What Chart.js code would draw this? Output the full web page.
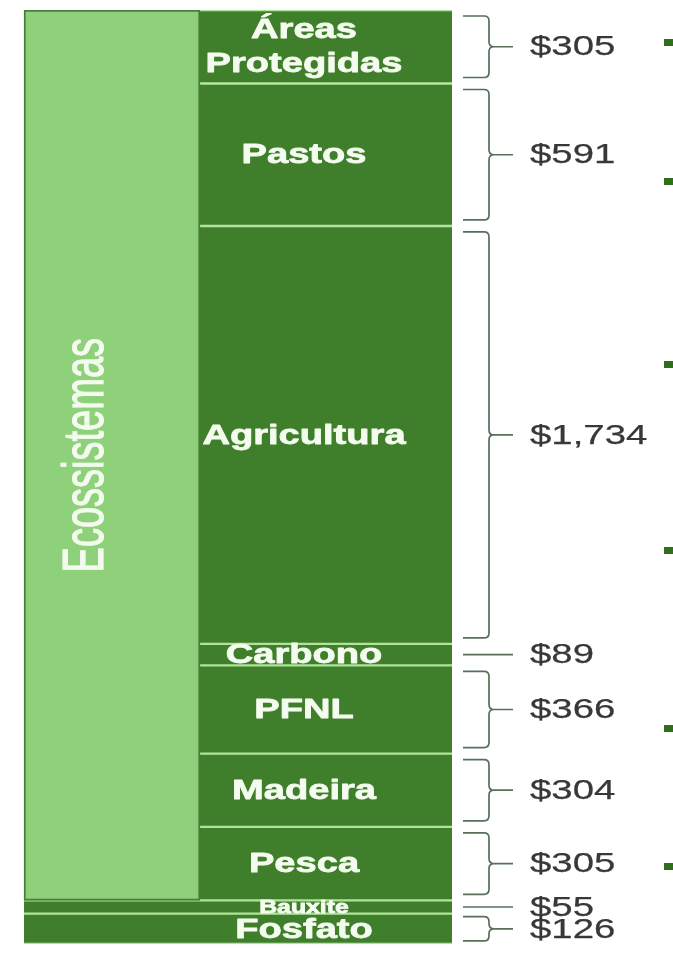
<!DOCTYPE html>
<html>
<head>
<meta charset="utf-8">
<script src="https://cdn.jsdelivr.net/npm/chart.js@4.4.0/dist/chart.umd.min.js"></script>
<style>
  html, body { margin: 0; padding: 0; background: #fff; }
  #wrap { width: 673px; height: 960px; position: relative; }
</style>
</head>
<body>
<div id="wrap"><canvas id="chart"></canvas></div>
<script>
// Valor dos serviços (US$), lidos de cima para baixo
const columns = ['Ecossistemas', 'Serviços'];
const groupLabel = 'Ecossistemas';
const segmentLabels = ['Áreas\nProtegidas', 'Pastos', 'Agricultura', 'Carbono', 'PFNL', 'Madeira', 'Pesca'];
const segmentValues = [305, 591, 1734, 89, 366, 304, 305];
const mineralLabels = ['Bauxite', 'Fosfato'];
const mineralValues = [55, 126];

const DARK = '#3f7e2b';
const LIGHT = '#8fd17a';
const LINE = '#b0e49b';
const OUTLINE = '#4b7d3a';
const FONT = "'Liberation Sans', Arial, sans-serif";

const ecoTotal = segmentValues.reduce((a, b) => a + b, 0);
const grandTotal = ecoTotal + mineralValues.reduce((a, b) => a + b, 0);

const thin = { top: 1.5, bottom: 1.5, left: 0, right: 0 };
const datasets = [];
datasets.push({
  label: groupLabel, kind: 'group', data: [ecoTotal, null],
  backgroundColor: LIGHT, borderColor: OUTLINE, borderWidth: 2,
  borderSkipped: false, barThickness: 176
});
segmentLabels.forEach((lab, i) => {
  datasets.push({
    label: lab, kind: 'segment', data: [null, segmentValues[i]],
    backgroundColor: DARK, borderColor: LINE, borderWidth: thin,
    borderSkipped: false, barThickness: 252, clip: false
  });
});
mineralLabels.forEach((lab, i) => {
  datasets.push({
    label: lab, kind: 'mineralLeft', data: [mineralValues[i], null],
    backgroundColor: DARK, borderColor: LINE, borderWidth: thin,
    borderSkipped: false, barThickness: 176
  });
  datasets.push({
    label: lab, kind: 'mineral', data: [null, mineralValues[i]],
    backgroundColor: DARK, borderColor: LINE, borderWidth: thin,
    borderSkipped: false, barThickness: 252, clip: false
  });
});

// text drawn wider than the font, with a light stroke to make it heavier
function stretched(ctx, text, x, y, sx, weight) {
  ctx.save();
  ctx.translate(x, y);
  ctx.scale(sx, 1);
  ctx.fillText(text, 0, 0);
  if (weight) {
    ctx.strokeStyle = ctx.fillStyle;
    ctx.lineWidth = weight;
    ctx.lineJoin = 'round';
    ctx.strokeText(text, 0, 0);
  }
  ctx.restore();
}

function brace(ctx, x0, x1, xt, top, bottom) {
  const mid = (top + bottom) / 2;
  const r = Math.min(5, (bottom - top) / 4);
  ctx.beginPath();
  ctx.moveTo(x0, top);
  ctx.lineTo(x1 - r, top);
  ctx.quadraticCurveTo(x1, top, x1, top + r);
  ctx.lineTo(x1, mid - r);
  ctx.quadraticCurveTo(x1, mid, x1 + r, mid);
  ctx.lineTo(xt, mid);
  ctx.moveTo(x1 + r, mid);
  ctx.quadraticCurveTo(x1, mid, x1, mid + r);
  ctx.lineTo(x1, bottom - r);
  ctx.quadraticCurveTo(x1, bottom, x1 - r, bottom);
  ctx.lineTo(x0, bottom);
  ctx.stroke();
}

const overlay = {
  id: 'overlay',
  afterDatasetsDraw(chart) {
    const ctx = chart.ctx;
    chart.data.datasets.forEach((ds, di) => {
      const meta = chart.getDatasetMeta(di);
      if (ds.kind === 'group') {
        const el = meta.data[0];
        const mid = (el.y + el.base) / 2;
        ctx.save();
        ctx.translate(el.x - 30, mid);
        ctx.rotate(-Math.PI / 2);
        ctx.scale(1, 1.5);
        ctx.font = '38px ' + FONT;
        ctx.fillStyle = '#f2fbee';
        ctx.strokeStyle = '#f2fbee';
        ctx.lineWidth = 0.8;
        ctx.textAlign = 'center';
        ctx.textBaseline = 'alphabetic';
        ctx.fillText(ds.label, 0, 38 * 0.36);
        ctx.strokeText(ds.label, 0, 38 * 0.36);
        ctx.restore();
        return;
      }
      if (ds.kind !== 'segment' && ds.kind !== 'mineral') return;
      const el = meta.data[1];
      const top = Math.min(el.y, el.base);
      const bottom = Math.max(el.y, el.base);
      const h = bottom - top;
      const mid = (top + bottom) / 2;
      const right = el.x + el.width / 2;

      // label inside the bar
      const size = h >= 20 ? 28 : Math.max(14, h + 5);
      ctx.save();
      ctx.font = 'bold ' + size + 'px ' + FONT;
      ctx.fillStyle = '#f4fbef';
      ctx.textAlign = 'center';
      ctx.textBaseline = 'middle';
      const lines = ds.label.split('\n');
      lines.forEach((line, li) => {
        const off = (li - (lines.length - 1) / 2) * 34;
        stretched(ctx, line, el.x - 22, mid + off + 1, 1.36, 0.8);
      });
      ctx.restore();

      // bracket
      ctx.save();
      ctx.strokeStyle = '#56705a';
      ctx.lineWidth = 1.7;
      const x0 = right + 11, x1 = right + 37, xt = right + 61;
      if (h < 26) {
        ctx.beginPath();
        ctx.moveTo(x0, mid);
        ctx.lineTo(xt, mid);
        ctx.stroke();
      } else {
        const inset = Math.min(6, h * 0.1);
        brace(ctx, x0, x1, xt, top + inset, bottom - inset);
      }
      ctx.restore();

      // value
      const value = chart.data.datasets[di].data[1];
      ctx.save();
      ctx.font = '28px ' + FONT;
      ctx.fillStyle = '#383838';
      ctx.textAlign = 'left';
      ctx.textBaseline = 'middle';
      stretched(ctx, '$' + value.toLocaleString('en-US'), right + 78, mid + 1, 1.37, 0.25);
      ctx.restore();
    });

    // bullets of the cut-off slide text
    ctx.save();
    ctx.fillStyle = '#2f6f1c';
    [42, 181, 364, 550, 728, 866].forEach(y => ctx.fillRect(664, y - 3, 9, 7));
    ctx.restore();
  }
};

new Chart(document.getElementById('chart'), {
  type: 'bar',
  data: { labels: columns, datasets: datasets },
  options: {
    responsive: true,
    maintainAspectRatio: false,
    animation: false,
    layout: { padding: { left: 5, right: 240, top: 10, bottom: 16 } },
    plugins: {
      legend: { display: false },
      tooltip: { enabled: false }
    },
    scales: {
      x: { display: false, stacked: true },
      y: { display: false, stacked: true, reverse: true, min: 0, max: grandTotal }
    }
  },
  plugins: [overlay]
});
</script>
</body>
</html>
